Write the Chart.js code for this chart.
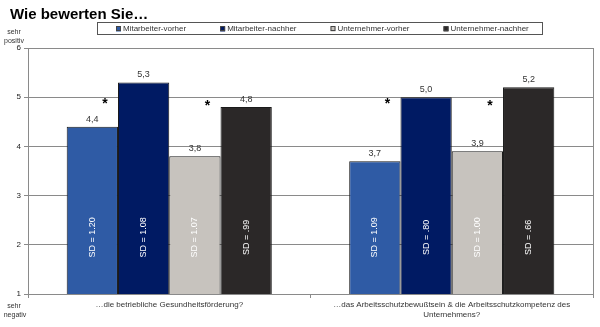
<!DOCTYPE html>
<html>
<head>
<meta charset="utf-8">
<script src="https://cdn.jsdelivr.net/npm/chart.js@4"></script>
<style>
    html, body { margin: 0; padding: 0; background: #fff; }
    #wrap { width: 600px; height: 327px; }
</style>
</head>
<body>
<div id="wrap"><canvas id="ratingChart"></canvas></div>
<script>
// Questions and mean ratings (1 = sehr negativ, 6 = sehr positiv)
const questions = [
    "…die betriebliche Gesundheitsförderung?",
    ["…das Arbeitsschutzbewußtsein & die Arbeitsschutzkompetenz des", "Unternehmens?"]
];
const mitarbeiterVorher = [4.4, 3.7];
const mitarbeiterNachher = [5.3, 5.0];
const unternehmerVorher = [3.8, 3.9];
const unternehmerNachher = [4.8, 5.2];

// Standard deviations, printed inside the bars
const sdMitarbeiterVorher = ["1.20", "1.09"];
const sdMitarbeiterNachher = ["1.08", ".80"];
const sdUnternehmerVorher = ["1.07", "1.00"];
const sdUnternehmerNachher = [".99", ".66"];

// Significant vorher/nachher change: [Mitarbeiter, Unternehmer] per question
const significant = [[true, true], [true, true]];

const yTicks = [1, 2, 3, 4, 5, 6];

const FONT = "'Liberation Sans', Arial, sans-serif";
const gridColor = "#8a8a8a";

// title, boxed legend, value labels, SD labels, stars and scale captions
const annotations = {
    id: "annotations",
    afterDatasetsDraw(chart) {
        const ctx = chart.ctx;
        const y = chart.scales.y;
        const area = chart.chartArea;
        ctx.save();

        // right border of the plot frame
        ctx.strokeStyle = gridColor;
        ctx.lineWidth = 1;
        ctx.beginPath();
        ctx.moveTo(Math.round(area.right) + 0.5, area.top);
        ctx.lineTo(Math.round(area.right) + 0.5, area.bottom);
        ctx.stroke();

        chart.data.datasets.forEach((ds, di) => {
            const meta = chart.getDatasetMeta(di);
            meta.data.forEach((bar, i) => {
                // mean above the bar
                ctx.fillStyle = "#333";
                ctx.font = "9px " + FONT;
                ctx.textAlign = "center";
                ctx.textBaseline = "bottom";
                ctx.fillText(ds.data[i].toFixed(1).replace(".", ","), bar.x, bar.y - 3);

                // SD rotated inside the bar
                ctx.save();
                ctx.translate(bar.x, y.getPixelForValue(2.15));
                ctx.rotate(-Math.PI / 2);
                ctx.fillStyle = "#fff";
                ctx.textBaseline = "middle";
                ctx.fillText("SD = " + ds.sd[i], 0, 0);
                ctx.restore();
            });
        });

        // stars to the left of the "nachher" bars
        ctx.fillStyle = "#000";
        ctx.font = "bold 14px " + FONT;
        ctx.textAlign = "center";
        ctx.textBaseline = "alphabetic";
        significant.forEach((pair, i) => {
            pair.forEach((sig, p) => {
                if (!sig) return;
                const bar = chart.getDatasetMeta(p * 2 + 1).data[i];
                ctx.fillText("*", bar.x - bar.width / 2 - 13, y.getPixelForValue(5) + 10.5 + p * 2);
            });
        });

        // captions at both ends of the rating scale
        ctx.fillStyle = "#333";
        ctx.font = "7px " + FONT;
        ctx.textBaseline = "middle";
        ctx.fillText("sehr", 14, 32);
        ctx.fillText("positiv", 14, 41);
        ctx.fillText("sehr", 14, 306);
        ctx.fillText("negativ", 15, 315);

        // title
        ctx.fillStyle = "#000";
        ctx.font = "bold 15px " + FONT;
        ctx.textAlign = "left";
        ctx.textBaseline = "alphabetic";
        ctx.fillText("Wie bewerten Sie…", 10, 19);

        // legend in a frame
        ctx.strokeStyle = "#555";
        ctx.strokeRect(97.5, 22.5, 445, 12);
        ctx.font = "8px " + FONT;
        ctx.textBaseline = "middle";
        let lx = 116;
        chart.data.datasets.forEach(ds => {
            ctx.fillStyle = ds.backgroundColor;
            ctx.fillRect(lx, 26.5, 5, 5);
            ctx.strokeStyle = "#444";
            ctx.strokeRect(lx + 0.5, 26.5, 4, 4);
            ctx.fillStyle = "#333";
            ctx.fillText(ds.label, lx + 7, 29);
            lx += 7 + ctx.measureText(ds.label).width + 34;
        });
        ctx.restore();
    }
};

new Chart(document.getElementById("ratingChart"), {
    type: "bar",
    data: {
        labels: questions,
        datasets: [
            { label: "Mitarbeiter-vorher", data: mitarbeiterVorher, sd: sdMitarbeiterVorher, backgroundColor: "#2f5ba5" },
            { label: "Mitarbeiter-nachher", data: mitarbeiterNachher, sd: sdMitarbeiterNachher, backgroundColor: "#001a63" },
            { label: "Unternehmer-vorher", data: unternehmerVorher, sd: sdUnternehmerVorher, backgroundColor: "#c7c3be" },
            { label: "Unternehmer-nachher", data: unternehmerNachher, sd: sdUnternehmerNachher, backgroundColor: "#2b2828" }
        ].map(ds => Object.assign(ds, {
            borderColor: "#1a1a1a",
            borderWidth: 1,
            barPercentage: 1,
            categoryPercentage: 0.726
        }))
    },
    options: {
        responsive: true,
        maintainAspectRatio: false,
        animation: false,
        layout: { padding: { left: 0, right: 7, top: 48, bottom: 0 } },
        plugins: {
            title: { display: false },
            legend: { display: false },
            tooltip: { enabled: false }
        },
        scales: {
            x: {
                grid: { offset: true, drawOnChartArea: false, tickLength: 4, color: gridColor },
                border: { color: gridColor },
                ticks: { color: "#333", font: { family: FONT, size: 8 }, padding: 2, maxRotation: 0 },
                afterFit(scale) { scale.height = 33; }
            },
            y: {
                min: 1,
                max: 6,
                afterBuildTicks(scale) { scale.ticks = yTicks.map(v => ({ value: v })); },
                grid: { color: gridColor, tickLength: 4 },
                border: { color: gridColor },
                ticks: { color: "#222", font: { family: FONT, size: 8 }, padding: 3 },
                afterFit(scale) { scale.width = 28; }
            }
        }
    },
    plugins: [annotations]
});
</script>
</body>
</html>
